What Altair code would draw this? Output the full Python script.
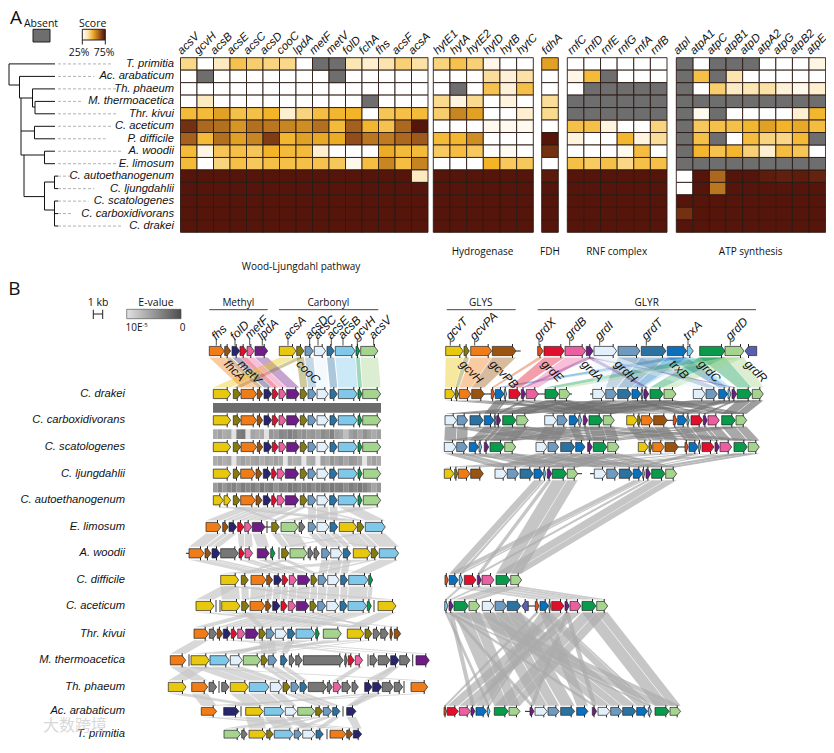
import altair as alt
import pandas as pd

alt.data_transformers.disable_max_rows()

# ---------- Panel A data ----------
species = ["T. primitia", "Ac. arabaticum", "Th. phaeum", "M. thermoacetica", "Thr. kivui",
           "C. aceticum", "P. difficile", "A. woodii", "E. limosum", "C. autoethanogenum",
           "C. ljungdahlii", "C. scatologenes", "C. carboxidivorans", "C. drakei"]
N = None
D = 98
wl_genes = ["acsV", "gcvH", "acsB", "acsE", "acsC", "acsD", "cooC", "lpdA", "metF", "metV", "folD", "fchA", "fhs", "acsF", "acsA"]
wl_scores = [
    [25, 0, 15, 40, 32, 27, 25, 0, N, N, 17, 12, 18, 30, 20],
    [0, N, 0, 0, 0, 0, 0, 0, 0, N, 0, 0, 0, 0, 0],
    [0, 0, 0, 0, 0, 0, 0, 0, 0, 0, 0, 0, 0, 0, 0],
    [0, 15, 0, 0, 0, 0, 0, 0, 0, 0, 0, N, 0, 0, 0],
    [45, 45, 55, 42, 42, 50, 12, 28, 43, 48, 50, 0, 38, 42, 45],
    [88, 70, 68, 58, 68, 66, 62, 60, 68, 45, 72, 48, 40, 70, 98],
    [72, 45, 68, 55, 62, 84, 48, 55, 53, 52, 78, 66, 65, 70, 74],
    [45, 7, 38, 42, 38, 50, 45, 45, 12, 0, 0, 0, 52, 45, 45],
    [45, 0, 28, 42, 37, 42, 42, 42, 40, 37, 5, 43, 62, 43, 63],
    [D, D, D, D, D, D, D, D, D, D, D, D, D, D, 15],
    [D] * 15, [D] * 15, [D] * 15, [D] * 15,
]
hyd_genes = ["hytE1", "hytA", "hytE2", "hytD", "hytB", "hytC"]
hyd_scores = [
    [28, 40, 30, 5, 0, 0], [0, 0, 0, 22, 10, 20], [0, N, 0, 40, 10, 42], [24, 8, 24, 0, 8, 0],
    [32, 62, 55, 0, 0, 12], [0, 0, 0, 4, 4, 4], [45, 48, 60, 0, 0, 0], [35, 43, 36, 0, 3, 0],
    [0, 0, 0, 50, 36, 37], [D] * 6, [D] * 6, [D] * 6, [D] * 6, [D] * 6,
]
fdh_genes = ["fdhA"]
fdh_scores = [[55], [0], [0], [22], [24], [0], [98], [88], [0], [96], [D], [D], [D], [D]]
rnf_genes = ["rnfC", "rnfD", "rnfE", "rnfG", "rnfA", "rnfB"]
rnf_scores = [
    [0, 0, 0, 0, 0, 0], [6, 45, N, 0, 0, 0], [0, N, N, N, N, N], [N] * 6, [N] * 6,
    [42, 42, 8, 0, 0, 28], [9, 0, 0, 48, 8, 22], [0, 0, 0, 4, 44, 0], [42, 35, 42, 26, 42, 42],
    [D] * 6, [D] * 6, [D] * 6, [D] * 6, [D] * 6,
]
atp_genes = ["atpI", "atpA1", "atpC", "atpB1", "atpD", "atpA2", "atpG", "atpB2", "atpE"]
atp_scores = [
    [N, 0, N, N, N, 0, 0, 0, 7], [N, 42, N, 18, 0, 0, 0, 0, 0], [N, 0, 32, 14, 17, 20, 10, 5, 12],
    [N] * 9, [N, 4, N, 0, 0, 0, 0, 12, 48], [N, 37, 42, 42, 48, 55, 50, 53, 44],
    [N, 42, N, 0, 44, 28, 26, 46, N], [N, 48, 40, 48, 30, 12, 44, 38, 0], [N] * 9,
    [0, D, 70, D, D, 95, 94, 95, 93], [0, D, 66, D, D, D, D, D, D], [D] * 9,
    [88, D, D, D, D, D, D, D, D], [D] * 9,
]
heat_groups = [
    (wl_genes, wl_scores, 180.5, 428.0, -9),
    (hyd_genes, hyd_scores, 433.3, 533.3, -6),
    (fdh_genes, fdh_scores, 541.7, 558.3, -6),
    (rnf_genes, rnf_scores, 567.3, 667.0, -6),
    (atp_genes, atp_scores, 676.3, 825.6, -9),
]
heat_top, heat_bottom = 57.7, 232.3
group_labels = [("Wood-Ljungdahl pathway", 301, 267), ("Hydrogenase", 482.5, 252), ("FDH", 550, 252),
                ("RNF complex", 616.7, 252), ("ATP synthesis", 750.7, 252)]

tree_edges = [
    (9, 63.9, 55, 63.9), (9, 63.9, 9, 85), (9, 85, 19.5, 85), (19.5, 76.4, 55, 76.4), (19.5, 76.4, 19.5, 98),
    (19.5, 98, 21, 98), (21, 98, 21, 155), (21, 98, 32.5, 98), (32.5, 88.9, 32.5, 107), (32.5, 88.9, 55, 88.9),
    (32.5, 107, 35, 107), (35, 101.4, 35, 113.8), (35, 101.4, 55, 101.4), (35, 113.8, 55, 113.8),
    (21, 131, 34.5, 131), (34.5, 126.3, 34.5, 138.8), (34.5, 126.3, 55, 126.3), (34.5, 138.8, 55, 138.8),
    (21, 155, 24, 155), (24, 155, 24, 196.6), (24, 155, 44.5, 155), (44.5, 151.2, 44.5, 163.7),
    (44.5, 151.2, 55, 151.2), (44.5, 163.7, 55, 163.7), (24, 196.6, 44.5, 196.6), (44.5, 182, 44.5, 210),
    (44.5, 182, 54.5, 182), (54.5, 176.1, 54.5, 188.6), (54.5, 176.1, 58, 176.1), (54.5, 188.6, 58, 188.6),
    (44.5, 210, 54.5, 210), (54.5, 201, 54.5, 226), (54.5, 201, 58, 201), (54.5, 213.6, 58, 213.6), (54.5, 226, 58, 226),
]

# ---------- Panel B data: (family, start, end) ----------
gene_colors = {
    "Y": "#e8c80e", "O": "#857a10", "R": "#f07c17", "B": "#9a5410", "N": "#27256e", "D": "#e20f2c",
    "P": "#ea5fa0", "V": "#6e1d86", "S": "#6f9abf", "L": "#e2f0fb", "T": "#2c72a0", "C": "#7fc8ea",
    "G": "#0a9a4c", "A": "#a5d48f", "X": "#777777", "Q": "#d9541e", "E": "#0a70bd", "Z": "#5560b0",
}
left_top = [("R", 209.3, 224.3), ("B", 224.7, 230.7), ("N", 232, 239.7), ("D", 240, 246.7), ("P", 247, 254.3),
            ("V", 255, 267.7), ("Y", 279.3, 296), ("O", 296.7, 304), ("S", 305, 313.3), ("L", 314.3, 325.7),
            ("T", 327, 334.3), ("C", 335.3, 355.3), ("G", 356, 359.7), ("A", 360.7, 378)]
left_drakei = [("Y", 213.3, 230.7), ("O", 233.3, 240.7), ("R", 241, 256.7), ("B", 257.3, 262.7), ("N", 264, 271.7),
               ("D", 272.3, 278.3), ("P", 279, 286), ("V", 286.7, 299.3), ("O", 300.3, 307.3), ("S", 308, 316),
               ("L", 317, 328.3), ("T", 330, 337.3), ("C", 338.3, 357.3), ("G", 358, 362), ("A", 362.7, 380.7)]
left_carb = list(left_drakei)
left_scat = list(left_drakei)
left_lj = [("Y", 213.3, 230.7), ("O", 233.3, 240), ("R", 240.7, 255.3), ("B", 256, 262), ("N", 263.3, 271),
           ("D", 271.7, 276.7), ("P", 277.3, 284.7), ("V", 285.3, 298.7), ("O", 300.3, 307.3), ("S", 308, 316),
           ("L", 317, 328.3), ("T", 329.7, 337.3), ("C", 338.3, 357.3), ("G", 358, 362), ("A", 363.3, 380.7)]
left_auto = [("Y", 213.3, 223.3), ("Y", 224, 230.7)] + left_lj[1:]
left_elim = [("R", 206, 221), ("B", 222.7, 228.3), ("N", 229, 236.7), ("D", 237.7, 244), ("P", 244.7, 251.7),
             ("V", 252.3, 265), ("O", 271.7, 279.3), ("A", 281, 298.3), ("X", 299, 305), ("S", 308.3, 316),
             ("L", 317, 329), ("T", 330, 337.7), ("Y", 339.3, 356.7), ("O", 357.3, 364), ("C", 365.3, 385.3)]
left_wood = [("R", 189, 204), ("B", 205, 211), ("N", 212, 220), ("X", 220.7, 238.3), ("D", 239, 244.3),
             ("P", 245, 252.7), ("V", 257.3, 269.3), ("G", 270.7, 275), ("O", 281.7, 289), ("A", 290, 307.3),
             ("X", 308, 313.3), ("X", 314, 319.3), ("S", 321.7, 330), ("L", 330.7, 342.3), ("T", 343.3, 350.7),
             ("Y", 353.3, 370.7), ("O", 371.3, 378.3), ("C", 379.3, 398.7)]
left_diff = [("Y", 220.7, 238.7), ("O", 241.3, 248.3), ("R", 251, 266), ("B", 266.7, 272.7), ("N", 274, 281.7),
             ("D", 282.3, 288), ("P", 289.3, 296.7), ("V", 297.7, 310), ("O", 311, 317.3), ("S", 318.3, 326.7),
             ("L", 327.7, 339.3), ("T", 340.7, 347.7), ("C", 348.7, 368), ("G", 368.7, 372.7)]
left_acet = [("Y", 196, 214), ("Y", 221.7, 240), ("O", 241.7, 249), ("R", 250, 265), ("B", 265.7, 271.3),
             ("N", 272.7, 280), ("D", 281, 287.3), ("P", 288.3, 295.7), ("V", 296.3, 309), ("O", 310, 316.7),
             ("S", 317.7, 325.7), ("L", 326.7, 338.7), ("T", 340, 347.3), ("C", 348, 366.7), ("G", 367.3, 371.3),
             ("Y", 378, 396)]
left_kivu = [("R", 194, 208.7), ("X", 209.3, 216.7), ("B", 217.3, 222.7), ("N", 223.3, 230.7), ("D", 231.3, 237),
             ("P", 237.7, 245), ("V", 245.7, 258.3), ("O", 259, 265.7), ("S", 266.3, 274.3), ("L", 275.3, 286.7),
             ("T", 287.7, 295), ("C", 296, 315), ("G", 315.7, 319.3), ("A", 323.3, 341.3), ("Y", 347.3, 364),
             ("O", 365, 372), ("X", 373.3, 380), ("X", 380.7, 388.3), ("B", 390, 392.7), ("B", 394.3, 400.7)]
left_ther = [("R", 170.3, 185.7), ("Y", 191, 209.3), ("C", 210, 229.3), ("L", 230.3, 242.3), ("A", 243.3, 260.7),
             ("O", 261.3, 267.7), ("S", 268.3, 276.7), ("T", 280.7, 287.3), ("X", 289.3, 294.7), ("X", 295.7, 302.3),
             ("X", 303.3, 343.3), ("X", 344.7, 347.3), ("D", 348.3, 354.3), ("P", 355.3, 362.7), ("X", 370, 377.3),
             ("X", 378.3, 390), ("N", 390.7, 399), ("X", 399.7, 410), ("V", 416, 429.3)]
left_phae = [("Y", 168.3, 186), ("R", 191.7, 207.7), ("X", 209, 216.7), ("X", 221.7, 229), ("Y", 230.3, 248.3),
             ("C", 249.3, 269), ("L", 270.3, 282.3), ("O", 283, 290), ("S", 291, 299), ("T", 300, 307.3),
             ("X", 308.3, 326.7), ("X", 327.3, 332.3), ("P", 333.3, 341.3), ("X", 342, 350.7), ("X", 352, 358.3),
             ("N", 364.7, 372), ("N", 372.7, 381.7), ("X", 382.3, 393.3), ("X", 394.3, 402.7), ("R", 411, 427.7)]
left_arab = [("R", 201.3, 216.7), ("N", 223.7, 239), ("Y", 245.7, 263.3), ("C", 264.3, 284), ("L", 285.3, 296.7),
             ("A", 297.7, 315), ("O", 315.7, 322.7), ("S", 323.3, 331.7), ("T", 332.7, 340), ("N", 346.7, 356)]
left_prim = [("A", 224, 240.7), ("X", 241.7, 247.3), ("Y", 249, 266), ("O", 266.7, 273.3), ("C", 274.3, 293.3),
             ("S", 294.3, 301.7), ("L", 302.7, 315), ("T", 316, 323.3), ("R", 330, 346), ("B", 346.7, 352.7),
             ("N", 353.3, 361.7)]

right_top = [("Y", 445.7, 463.3), ("O", 464, 469.3), ("R", 470.7, 491.7), ("B", 492.3, 516), ("Q", 537.7, 543.3),
             ("D", 544, 564.3), ("P", 565, 585.7), ("V", 586.3, 593.3), ("L", 594, 616.7), ("S", 618, 640),
             ("T", 641.3, 666), ("E", 667.3, 686.7), ("C", 687.3, 693.3), ("G", 699.7, 725), ("A", 725, 744),
             ("Z", 745, 756.7)]
right_drakei = [("Y", 445, 455), ("O", 455.3, 458.7), ("R", 459.3, 471), ("B", 471.7, 484.3), ("Q", 491.3, 494.7),
                ("E", 495.3, 504), ("C", 504.3, 506.7), ("D", 509, 520.7), ("V", 521.3, 525.7), ("P", 526.3, 538.3),
                ("G", 545, 558.7), ("A", 559.3, 570), ("L", 592.7, 605), ("S", 605.7, 616.7), ("T", 617.7, 631.3),
                ("E", 632, 641), ("C", 641.3, 643.3), ("V", 644, 648.7), ("G", 650, 663.3), ("A", 664, 676),
                ("L", 693.3, 705.3), ("S", 706, 717.3), ("E", 718.7, 727.7), ("C", 728, 731), ("V", 732, 736.7),
                ("G", 737.3, 751.7), ("A", 752.3, 763.3)]
right_carb = [("L", 445, 456.7), ("S", 457.3, 467.7), ("T", 470, 483.3), ("E", 484.3, 494), ("C", 494.3, 496),
              ("V", 496.7, 500.7), ("G", 502.7, 516), ("A", 516.7, 528.3), ("L", 544.7, 556.7), ("S", 557.3, 567.3),
              ("E", 569.3, 578.3), ("C", 578.7, 581.7), ("V", 583.3, 587.7), ("G", 589, 602.7), ("A", 603.3, 614.3),
              ("Y", 626.7, 637.3), ("O", 637.7, 640.7), ("R", 641.3, 653), ("B", 653.7, 667.3), ("Q", 673.3, 677),
              ("E", 677.7, 686.7), ("C", 687, 689.3), ("D", 691, 702.7), ("V", 703.3, 707.3), ("P", 708, 719.3),
              ("G", 721.7, 735.3), ("A", 736, 746.7)]
right_scat = [("L", 444.3, 456), ("S", 456.7, 467.3), ("E", 469.3, 478.7), ("C", 479, 481.7), ("V", 484.3, 488.7),
              ("G", 490, 504), ("A", 504.7, 515.7), ("L", 536, 547.3), ("S", 548, 558.7), ("T", 560.7, 574.7),
              ("E", 575.7, 585), ("V", 587.7, 592.3), ("G", 593.3, 607), ("A", 607.7, 619), ("Y", 638.3, 648.3),
              ("O", 649, 652), ("R", 652.7, 664.3), ("B", 665, 678.3), ("Q", 685, 688.3), ("E", 689, 698.3),
              ("C", 698.7, 700.7), ("D", 702, 714), ("V", 715, 719.3), ("P", 720, 731.7), ("G", 734, 747.3),
              ("A", 748.3, 759.3)]
right_lj = [("Y", 444.3, 454), ("O", 454.7, 457.7), ("R", 458.3, 470), ("B", 470.7, 483.3), ("L", 495, 506.7),
            ("S", 507.3, 518.7), ("T", 520, 533.3), ("E", 534, 543.3), ("C", 543.7, 545.7), ("V", 547.3, 551.7),
            ("G", 552.3, 566.7), ("A", 567.3, 577.7), ("L", 594.3, 606), ("S", 606.7, 618.3), ("T", 619.3, 632.7),
            ("E", 633.3, 642.3), ("C", 642.7, 644.7), ("V", 646, 650.7), ("G", 651.7, 665), ("A", 665.7, 676.7)]
right_diff = [("Q", 445, 448.3), ("E", 449.3, 458.3), ("C", 459.3, 462.7), ("D", 464.3, 476), ("V", 477.3, 481.3),
              ("P", 482, 494), ("G", 496, 510), ("A", 510.7, 521.7)]
right_acet = [("C", 444.7, 448), ("V", 449, 453.3), ("G", 454, 468.3), ("A", 469, 479.7), ("L", 482.3, 494),
              ("S", 495, 506.7), ("T", 507.3, 520.7), ("Z", 521.7, 528.3), ("Q", 535.3, 539), ("E", 540, 548.7),
              ("C", 549, 550.7), ("D", 551.7, 564), ("V", 565, 569.3), ("P", 570, 581), ("G", 582, 596),
              ("A", 596.7, 607.7)]
right_arab = [("Q", 444, 446.7), ("D", 447.3, 458.3), ("P", 459.3, 470.7), ("V", 471, 475), ("E", 476, 486.7),
              ("C", 487.3, 490), ("G", 494.3, 508.3), ("A", 509, 520), ("V", 530, 534), ("L", 535, 547.3),
              ("S", 548, 559.3), ("T", 560.7, 574.7), ("E", 576.7, 588), ("V", 592.3, 596.7), ("L", 598, 610),
              ("S", 610.7, 622), ("T", 622.7, 636), ("E", 636.7, 647.7), ("C", 648.3, 651.7), ("G", 655, 669.3),
              ("A", 670, 680.7)]

row_y = {"top": 351, "drakei": 394, "carb": 420.3, "scat": 447, "lj": 473.7, "auto": 500.3, "elim": 527,
         "wood": 553.3, "diff": 580, "acet": 606, "kivu": 633.7, "ther": 660.3, "phae": 687, "arab": 713.3, "prim": 740}
row_names = [("C. drakei", "drakei"), ("C. carboxidivorans", "carb"), ("C. scatologenes", "scat"),
             ("C. ljungdahlii", "lj"), ("C. autoethanogenum", "auto"), ("E. limosum", "elim"), ("A. woodii", "wood"),
             ("C. difficile", "diff"), ("C. aceticum", "acet"), ("Thr. kivui", "kivu"), ("M. thermoacetica", "ther"),
             ("Th. phaeum", "phae"), ("Ac. arabaticum", "arab"), ("T. primitia", "prim")]
tracks = [("top", left_top), ("drakei", left_drakei), ("carb", left_carb), ("scat", left_scat), ("lj", left_lj),
          ("auto", left_auto), ("elim", left_elim), ("wood", left_wood), ("diff", left_diff), ("acet", left_acet),
          ("kivu", left_kivu), ("ther", left_ther), ("phae", left_phae), ("arab", left_arab), ("prim", left_prim),
          ("top", right_top), ("drakei", right_drakei), ("carb", right_carb), ("scat", right_scat), ("lj", right_lj),
          ("diff", right_diff), ("acet", right_acet), ("arab", right_arab)]
left_links = [("auto", left_auto, "elim", left_elim), ("elim", left_elim, "wood", left_wood),
              ("wood", left_wood, "diff", left_diff), ("diff", left_diff, "acet", left_acet),
              ("acet", left_acet, "kivu", left_kivu), ("kivu", left_kivu, "ther", left_ther),
              ("ther", left_ther, "phae", left_phae), ("phae", left_phae, "arab", left_arab),
              ("arab", left_arab, "prim", left_prim)]
right_links = [("drakei", right_drakei, "carb", right_carb, "#6f6f6f"), ("carb", right_carb, "scat", right_scat, "#808080"),
               ("scat", right_scat, "lj", right_lj, "#969696"), ("lj", right_lj, "diff", right_diff, "#ababab"),
               ("diff", right_diff, "acet", right_acet, "#b4b4b4"), ("acet", right_acet, "arab", right_arab, "#ababab")]
top_links = [("top", left_top, "drakei", left_drakei), ("top", right_top, "drakei", right_drakei)]

band_x = (213, 381)
band_1 = [108] * 3
band_2 = [170, 160, 172, 168, 225, 125, 120, 225, 165, 172, 170, 225, 150, 155, 135, 140, 128, 135, 150, 145, 155, 150, 160,
          140, 148, 130, 158, 165, 190, 160, 150, 165, 145, 158, 170, 160]
band_3 = [172, 165, 175, 168, 230, 175, 160, 170, 165, 160, 175, 165, 170, 160, 168, 230, 165, 175, 170, 230, 175, 170, 230,
          160, 170, 150, 160, 150, 165, 150, 155, 165, 230, 170, 160, 170]
band_4 = [155, 135, 150, 135, 130, 145, 125, 135, 125, 140, 120, 135, 125, 145, 130, 135, 120, 125, 135, 130, 125, 140, 130,
          125, 135, 120, 130, 125, 140, 125, 135, 120, 130, 145, 165, 150]
bands = [("drakei", "carb", band_1), ("carb", "scat", band_2), ("scat", "lj", band_3), ("lj", "auto", band_4)]

backbones = [("top", 516, 520.7), ("drakei", 484, 491), ("drakei", 538, 545), ("drakei", 570, 572), ("drakei", 590, 593),
             ("carb", 667, 673), ("scat", 678, 685), ("lj", 577, 582), ("lj", 590, 594), ("wood", 186, 189),
             ("acet", 528, 535), ("arab", 525, 530), ("elim", 265, 271)]
break_ticks = [("elim", 267), ("wood", 279), ("acet", 216), ("acet", 220), ("acet", 374), ("ther", 189), ("ther", 368),
               ("ther", 412.7), ("phae", 219), ("phae", 404), ("arab", 241), ("arab", 343), ("prim", 327)]

top_above = [("fhs", 213.3, 338), ("folD", 232, 338), ("metF", 246.7, 337), ("lpdA", 259.3, 338), ("acsA", 285, 337),
             ("acsD", 306.7, 337), ("acsC", 315, 337), ("acsE", 328.3, 337), ("acsB", 340, 337), ("gcvH", 354.3, 338),
             ("acsV", 370.7, 337), ("gcvT", 447.3, 338), ("gcvPA", 471.7, 338), ("grdX", 536, 338), ("grdB", 566.7, 337),
             ("grdI", 596.7, 338), ("grdT", 643.3, 338), ("trxA", 685, 338), ("grdD", 727.3, 338)]
top_below = [("fhcA", 226, 362), ("metV", 240, 362), ("cooC", 298.3, 362), ("gcvH", 461.7, 362), ("gcvPB", 491.7, 362),
             ("grdE", 543.3, 362), ("grdA", 583.3, 362), ("grdH", 616.7, 362), ("trxB", 671.7, 362), ("grdC", 700, 362),
             ("grdR", 746.7, 362)]
section_headers = [("Methyl", 238.3, 209.3, 267.7), ("Carbonyl", 328.3, 279, 378.3), ("GLYS", 480.7, 446.7, 515.7),
                   ("GLYR", 646.7, 537.7, 756)]
plain_labels = [("Absent", 41, 23.7, 10.5), ("Score", 92.7, 23.7, 10.5), ("25%", 79, 53, 10.5), ("75%", 104, 53, 10.5),
                ("1 kb", 98, 303, 10.5), ("E-value", 156, 303, 10.5), ("10E", 134, 327.7, 10), ("-5", 145, 325, 6),
                ("0", 182.7, 327.7, 10)]
panel_letters = [("A", 16, 18), ("B", 14.5, 289)]
score_domain = [0, 12, 25, 50, 75, 100]
score_range = ["#ffffff", "#fdefd0", "#f9d88a", "#f3b427", "#9a551c", "#4f0f08"]

# ---------- Shared scales ----------
SX = alt.Scale(domain=[8, 826], range=[0, 818], nice=False, zero=False)
SY = alt.Scale(domain=[8, 700, 748], range=[0, 692, 733], nice=False, zero=False)


def X(f="x"):
    return alt.X(f"{f}:Q", scale=SX, axis=None)


def Y(f="y"):
    return alt.Y(f"{f}:Q", scale=SY, axis=None)


def seg_layer(rows, **kw):
    df = pd.DataFrame(rows, columns=["x", "y", "x2", "y2"])
    return alt.Chart(df).mark_rule(**kw).encode(x=X(), y=Y(), x2="x2:Q", y2="y2:Q")


def rect_layer(rows, **kw):
    df = pd.DataFrame(rows, columns=["x", "y", "x2", "y2"])
    return alt.Chart(df).mark_rect(**kw).encode(x=X(), y=Y(), x2="x2:Q", y2="y2:Q")


def text_layer(rows, **kw):
    df = pd.DataFrame(rows, columns=["t", "x", "y"])
    return alt.Chart(df).mark_text(**kw).encode(x=X(), y=Y(), text="t:N")


SANS = "Liberation Sans"
HUM = "Open Sans"
layers = []

# heatmap
cells = []
heat_labels = {}
n_rows = len(species)
row_h = (heat_bottom - heat_top) / n_rows
for genes, scores, x0, x1, off in heat_groups:
    w = (x1 - x0) / len(genes)
    for j, g in enumerate(genes):
        heat_labels.setdefault(off, []).append((g, x0 + w * (j + 0.5) + off, 53))
    for i, row in enumerate(scores):
        for j, v in enumerate(row):
            cells.append(dict(x=x0 + w * j, x2=x0 + w * (j + 1), y=heat_top + row_h * i, y2=heat_top + row_h * (i + 1), v=v))
cells_df = pd.DataFrame(cells)
layers.append(
    alt.Chart(cells_df[cells_df.v.notna()]).mark_rect(stroke="#2b1a14", strokeWidth=0.9).encode(
        x=X(), y=Y(), x2="x2:Q", y2="y2:Q",
        fill=alt.Fill("v:Q", scale=alt.Scale(domain=score_domain, range=score_range, interpolate="rgb", clamp=True), legend=None))
)
layers.append(
    alt.Chart(cells_df[cells_df.v.isna()]).mark_rect(stroke="#2b1a14", strokeWidth=0.9, fill="#6e6e6e").encode(
        x=X(), y=Y(), x2="x2:Q", y2="y2:Q")
)
for off, rows in heat_labels.items():
    layers.append(text_layer(rows, angle=315, align="left", baseline="middle", font=SANS, fontStyle="italic", fontSize=11.5, color="#111"))
# group labels below the heatmap
layers.append(text_layer(group_labels, font=HUM, fontSize=10, align="center", baseline="middle", color="#111"))

# tree + leaders + species
leaders = [(58, heat_top + row_h * (i + .5), 176 - 5.7 * len(s) - 2, heat_top + row_h * (i + .5)) for i, s in enumerate(species)]
layers.append(seg_layer(leaders, color="#aaaaaa", strokeDash=[3, 2], strokeWidth=0.9))
layers.append(seg_layer(tree_edges, color="#111111", strokeWidth=1))
layers.append(text_layer([(s, 174, heat_top + row_h * (i + .5)) for i, s in enumerate(species)],
                         align="right", baseline="middle", font=SANS, fontStyle="italic", fontSize=11.2, color="#111"))

# legends panel A
layers.append(rect_layer([(33, 29.3, 50, 42)], fill="#6e6e6e", stroke="#222", strokeWidth=1))
score_grad = alt.Gradient(gradient="linear", x1=0, x2=1, y1=0, y2=0, stops=[
    alt.GradientStop(offset=0, color="#ffffff"), alt.GradientStop(offset=.25, color="#fbe3a8"),
    alt.GradientStop(offset=.5, color="#e8a11f"), alt.GradientStop(offset=.75, color="#9a551c"),
    alt.GradientStop(offset=1, color="#4f0f08")])
layers.append(rect_layer([(82.3, 29.3, 105.3, 40)], fill=score_grad, stroke="#222", strokeWidth=1))
layers.append(seg_layer([(82.3, 40, 82.3, 44.5), (105.3, 40, 105.3, 44.5)], color="#222", strokeWidth=1))

# ribbons


def ribbon_rows(ya, genes_a, yb, genes_b, offs, color, start=0):
    out = []
    k = start
    for fa, a0, a1 in genes_a:
        if fa == "X":
            continue
        for fb, b0, b1 in genes_b:
            if fa != fb:
                continue
            c = gene_colors[fa] if color is None else color
            out.append(dict(id=k, y=ya + offs, x=a0, x2=a1, c=c))
            out.append(dict(id=k, y=yb - offs, x=b0, x2=b1, c=c))
            k += 1
    return out


gray_rows = []
for a, ga, b, gb in left_links:
    gray_rows += ribbon_rows(row_y[a], ga, row_y[b], gb, 6.5, "#c6c6c6", len(gray_rows))
for a, ga, b, gb, col in right_links:
    gray_rows += ribbon_rows(row_y[a], ga, row_y[b], gb, 6.5, col, 100000 + len(gray_rows))
top_rows = []
for a, ga, b, gb in top_links:
    top_rows += ribbon_rows(row_y[a], ga, row_y[b], gb, 6.5, None, 200000 + len(top_rows))

for rows, op in ((gray_rows, 0.68), (top_rows, 0.4)):
    rdf = pd.DataFrame(rows)
    for col, sub in rdf.groupby("c"):
        layers.append(
            alt.Chart(sub).mark_area(orient="horizontal", opacity=op, fill=col).encode(
                y=Y(), x=X(), x2="x2:Q", detail="id:N")
        )

# E-value stripes
stripes = []
for a, b, shades in bands:
    w = (band_x[1] - band_x[0]) / len(shades)
    y0, y1 = row_y[a] + 9, row_y[a] + 18.7
    for i, s in enumerate(shades):
        stripes.append(dict(x=band_x[0] + w * i, x2=band_x[0] + w * (i + 1), y=y0, y2=y1, c=f"#{s:02x}{s:02x}{s:02x}"))
layers.append(alt.Chart(pd.DataFrame(stripes)).mark_rect().encode(
    x=X(), y=Y(), x2="x2:Q", y2="y2:Q", fill=alt.Fill("c:N", scale=None)))

# backbones and contig breaks
layers.append(seg_layer([(a, row_y[r], b, row_y[r]) for r, a, b in backbones], color="#222", strokeWidth=1))
layers.append(seg_layer([(x, row_y[r] - 6, x, row_y[r] + 6) for r, x in break_ticks], color="#222", strokeWidth=0.9))

# gene arrows
pts, ticks = [], []
H = 4.6
gid = 0
for row, genes in tracks:
    yc = row_y[row]
    for fam, x0, x1 in genes:
        head = min(3.5, 0.6 * (x1 - x0))
        gid += 1
        col = gene_colors[fam]
        if fam == "Z":
            shape = [(x0, 0), (x0 + head, H), (x1, H)]
            tx = x0 + head
        else:
            shape = [(x0, H), (x1 - head, H), (x1, 0)]
            tx = x1 - head
        for px, hh in shape:
            pts.append(dict(id=gid, x=px, y=yc - hh, y2=yc + hh, c=col))
        ticks.append((tx, yc - 7, tx, yc + 7))
layers.append(seg_layer(ticks, color="#111", strokeWidth=0.9))
for col, sub in pd.DataFrame(pts).groupby("c"):
    layers.append(
        alt.Chart(sub).mark_area(fill=col, stroke="#222", strokeWidth=0.7).encode(
            x=X(), y=Y(), y2="y2:Q", detail="id:N")
    )

# row labels panel B
layers.append(text_layer([(n, 125, row_y[k]) for n, k in row_names], align="right", baseline="middle",
                         font=SANS, fontStyle="italic", fontSize=11.2, color="#111"))
# gene-name labels
layers.append(text_layer(top_above, angle=315, align="left", baseline="middle", font=SANS, fontStyle="italic", fontSize=12, color="#111"))
layers.append(text_layer(top_below, angle=45, align="left", baseline="middle", font=SANS, fontStyle="italic", fontSize=12, color="#111"))
layers.append(seg_layer([(x + 3, 345.5, x + 3, 339) for _, x, _ in top_above], color="#222", strokeWidth=0.8))
# section headers
layers.append(text_layer([(t, x, 303) for t, x, _, _ in section_headers], align="center", baseline="middle", font=HUM, fontSize=10, color="#111"))
layers.append(seg_layer([(a, 309.7, b, 309.7) for _, _, a, b in section_headers], color="#444", strokeWidth=1))
# scale bar and E-value gradient
layers.append(seg_layer([(93.3, 314, 102.7, 314), (93.3, 309.7, 93.3, 319), (102.7, 309.7, 102.7, 319)], color="#222", strokeWidth=1))
ev_grad = alt.Gradient(gradient="linear", x1=0, x2=1, y1=0, y2=0, stops=[
    alt.GradientStop(offset=0, color="#e2e2e2"), alt.GradientStop(offset=1, color="#4d4d4d")])
layers.append(rect_layer([(126.7, 309.3, 181, 318.7)], fill=ev_grad, stroke="#444", strokeWidth=0.6))
for t, x, y, s in plain_labels:
    layers.append(text_layer([(t, x, y)], align="center", baseline="middle", font=HUM, fontSize=s, color="#111"))
layers.append(text_layer(panel_letters, align="center", baseline="middle", font=HUM, fontSize=19, color="#111"))
# watermark
layers.append(text_layer([("大数跨境", 75, 731)], align="center", baseline="middle", font="Noto Sans CJK SC", fontSize=16, color="#cccccc", opacity=0.75))

chart = alt.layer(*layers).properties(
    width=818, height=733, padding=0, autosize=alt.AutoSizeParams(type="none")
).configure_view(stroke=None)
chart.save("out.html", embed_options={"renderer": "svg", "actions": False})
